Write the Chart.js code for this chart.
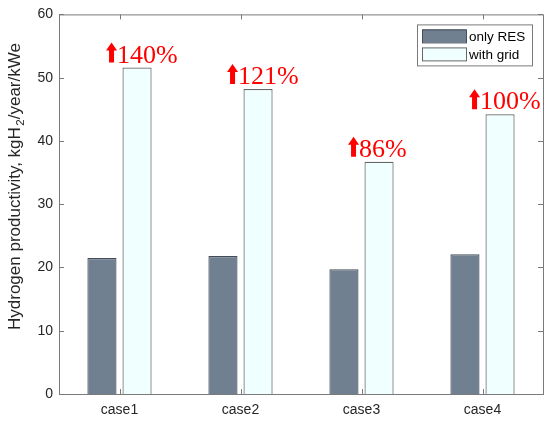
<!DOCTYPE html>
<html>
<head>
<meta charset="utf-8">
<script src="https://cdn.jsdelivr.net/npm/chart.js@4.4.1/dist/chart.umd.min.js"></script>
<style>
  html, body { margin: 0; padding: 0; background: #fff; }
  #wrap { width: 550px; height: 422px; }
</style>
</head>
<body>
<div id="wrap"><canvas id="c" width="550" height="422"></canvas></div>
<script>
// --- data ---
const CASES = ['case1', 'case2', 'case3', 'case4'];
const ONLY_RES = [21.5, 21.8, 19.7, 22.1];
const WITH_GRID = [51.6, 48.2, 36.7, 44.2];
const INCREASE = ['140%', '121%', '86%', '100%'];
const SERIES_NAMES = ['only RES', 'with grid'];
const Y_MIN = 0, Y_MAX = 60, Y_STEP = 10;

const AXIS_COLOR = '#7a7a7a';
const TEXT_COLOR = '#262626';
const SANS = '"Liberation Sans", Arial, sans-serif';

// box, inward ticks, y title with subscript, legend and the red annotations
const decorPlugin = {
    id: 'decor',
    afterDatasetsDraw(chart) {
        const ctx = chart.ctx;
        const { left, right, top, bottom } = chart.chartArea;
        const x = chart.scales.x, y = chart.scales.y;
        ctx.save();
        ctx.strokeStyle = AXIS_COLOR;
        ctx.lineWidth = 1;
        ctx.strokeRect(left + 0.5, top + 0.5, right - left, bottom - top);
        ctx.beginPath();
        for (let v = Y_MIN; v <= Y_MAX; v += Y_STEP) {
            const py = Math.round(y.getPixelForValue(v)) + 0.5;
            ctx.moveTo(left, py); ctx.lineTo(left + 5, py);
            ctx.moveTo(right, py); ctx.lineTo(right - 5, py);
        }
        CASES.forEach((c, i) => {
            const px = Math.round(x.getPixelForValue(i)) + 0.5;
            ctx.moveTo(px, bottom); ctx.lineTo(px, bottom - 5);
            ctx.moveTo(px, top); ctx.lineTo(px, top + 5);
        });
        ctx.stroke();

        // y axis title, written upward with a subscript 2
        ctx.save();
        ctx.translate(20, 330);
        ctx.rotate(-Math.PI / 2);
        ctx.fillStyle = TEXT_COLOR;
        ctx.textAlign = 'left';
        ctx.textBaseline = 'alphabetic';
        const parts = [['Hydrogen productivity, kgH', 17, 0], ['2', 11.5, 4], ['/year/kWe', 17, 0]];
        let tx = 0;
        parts.forEach(([t, size, dy], k) => {
            ctx.font = size + 'px ' + SANS;
            if (k === 1) tx += 1.5;
            ctx.fillText(t, tx, dy);
            tx += ctx.measureText(t).width;
        });
        ctx.restore();

        // red increase labels above the "with grid" bars
        const meta = chart.getDatasetMeta(1);
        ctx.fillStyle = '#ff0000';
        ctx.font = '26px "Liberation Serif", "Times New Roman", serif';
        ctx.textBaseline = 'alphabetic';
        ctx.textAlign = 'left';
        meta.data.forEach((bar, i) => {
            const ax = bar.x - 31;
            const base = bar.y - 5;
            ctx.beginPath();
            ctx.moveTo(ax + 5.5, base - 20);
            ctx.lineTo(ax + 11, base - 12);
            ctx.lineTo(ax + 8, base - 12);
            ctx.lineTo(ax + 8, base);
            ctx.lineTo(ax + 3, base);
            ctx.lineTo(ax + 3, base - 12);
            ctx.lineTo(ax, base - 12);
            ctx.closePath();
            ctx.fill();
            ctx.fillText(INCREASE[i], ax + 11, base);
        });

        // legend box
        const lw = 115, lh = 41;
        const lx = right - 11 - lw, ly = top + 10;
        ctx.fillStyle = '#fff';
        ctx.fillRect(lx, ly, lw, lh);
        ctx.strokeStyle = AXIS_COLOR;
        ctx.strokeRect(lx + 0.5, ly + 0.5, lw, lh);
        ctx.font = '13.5px ' + SANS;
        ctx.textBaseline = 'middle';
        chart.data.datasets.forEach((ds, i) => {
            const sy = ly + 5 + i * 18;
            ctx.fillStyle = ds.backgroundColor;
            ctx.fillRect(lx + 5, sy, 44, 13);
            ctx.strokeStyle = ds.borderColor;
            ctx.strokeRect(lx + 5.5, sy + 0.5, 44, 13);
            ctx.fillStyle = '#000';
            ctx.fillText(ds.label, lx + 52, sy + 7.5);
        });
        ctx.restore();
    }
};

new Chart(document.getElementById('c'), {
    type: 'bar',
    data: {
        labels: CASES,
        datasets: [
            { label: SERIES_NAMES[0], data: ONLY_RES, backgroundColor: '#708090', borderColor: '#434c57', borderWidth: 1.2 },
            { label: SERIES_NAMES[1], data: WITH_GRID, backgroundColor: '#f0ffff', borderColor: '#666666', borderWidth: 1.2 }
        ]
    },
    options: {
        responsive: false,
        animation: false,
        devicePixelRatio: 1,
        categoryPercentage: 0.58,
        barPercentage: 0.83,
        layout: { padding: { top: 8, right: 7, left: 0, bottom: 0 } },
        plugins: { legend: { display: false }, tooltip: { enabled: false } },
        scales: {
            x: {
                grid: { display: false, drawTicks: false },
                border: { display: false },
                ticks: { color: TEXT_COLOR, font: { family: SANS, size: 14 }, padding: 8 },
                afterFit(scale) { scale.height = 28; }
            },
            y: {
                min: Y_MIN, max: Y_MAX,
                grid: { display: false, drawTicks: false },
                border: { display: false },
                ticks: { stepSize: Y_STEP, color: TEXT_COLOR, font: { family: SANS, size: 14 }, padding: 6 },
                afterFit(scale) { scale.width = 59; }
            }
        }
    },
    plugins: [decorPlugin]
});
</script>
</body>
</html>
